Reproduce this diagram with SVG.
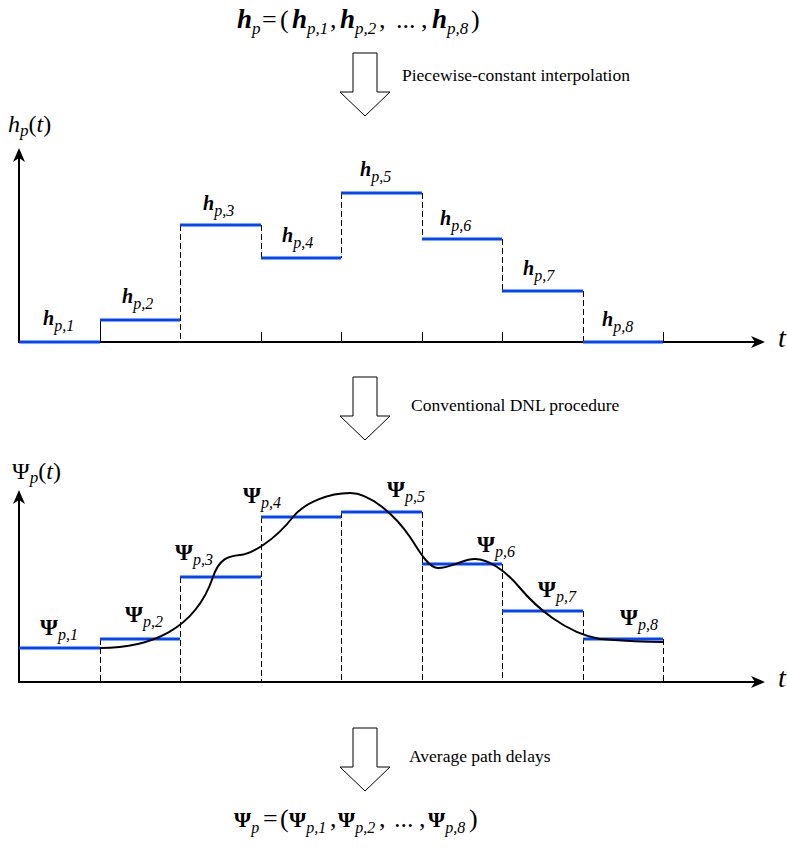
<svg xmlns="http://www.w3.org/2000/svg" width="787" height="848" viewBox="0 0 787 848">
<style>
text{font-family:"Liberation Serif","Times New Roman",serif;fill:#000}
.ax{stroke:#000;stroke-width:2;fill:none}
.step{stroke:#0044ff;stroke-width:3;fill:none}
.dash{stroke:#000;stroke-width:1;stroke-dasharray:6,3;fill:none}
.tick{stroke:#000;stroke-width:1;fill:none}
.curve{stroke:#000;stroke-width:2;fill:none}
.big{fill:#fff;stroke:#000;stroke-width:1}
.cap{font-size:17.5px}
.lh{font-size:20px;font-weight:bold;font-style:italic}
.lp{font-size:23px;font-weight:bold}
.sub{font-size:16px;font-weight:normal;font-style:italic}
.fh{font-size:27px;font-weight:bold;font-style:italic}
.fp{font-size:22px;font-weight:bold}
.fs{font-size:17px;font-weight:normal;font-style:italic}
.fs2{font-size:16px;font-weight:normal;font-style:italic}
.fr{font-size:26px;font-weight:normal;font-style:normal}
.axl{font-size:24px}
.it{font-style:italic}
.tl{font-size:28px;font-style:italic}
</style>
<defs>
<marker id="ah" viewBox="0 0 14 12" refX="4" refY="6" markerWidth="14" markerHeight="12" markerUnits="userSpaceOnUse" orient="auto">
<path d="M0,0 L14,6 L0,12 L4,6 Z" fill="#000"/>
</marker>
<path id="bigArrow" class="big" d="M13,0 H37 V39 H50 L25,63 L0,39 H13 Z"/>
</defs>

<g id="formula-top">
<text y="28"><tspan class="fh" x="237">h</tspan><tspan class="fs" y="34">p</tspan><tspan class="fr" x="262" y="28" font-weight="bold">=</tspan><tspan class="fr" x="280" y="28">(</tspan><tspan class="fh" x="292" y="28">h</tspan><tspan class="fs" y="34">p,1</tspan><tspan class="fr" x="330" y="28">,</tspan><tspan class="fh" x="340" y="28">h</tspan><tspan class="fs" y="34">p,2</tspan><tspan class="fr" x="379" y="28">,</tspan><tspan class="fr" x="396" y="28">...</tspan><tspan class="fr" x="421" y="28">,</tspan><tspan class="fh" x="432" y="28">h</tspan><tspan class="fs" y="34">p,8</tspan><tspan class="fr" x="471" y="28">)</tspan></text>
</g>

<g id="step-arrow-1">
<use href="#bigArrow" x="340" y="53"/>
<text class="cap" x="402" y="81">Piecewise-constant interpolation</text>
</g>

<g id="chart-h">
<g id="axes-h">
<line class="ax" x1="19" y1="342" x2="19" y2="158" marker-end="url(#ah)"/>
<line class="ax" x1="18" y1="342" x2="755" y2="342" marker-end="url(#ah)"/>
<text class="axl" x="8" y="132"><tspan class="it">h</tspan><tspan class="it" font-size="17" dy="4">p</tspan><tspan dy="-4">(</tspan><tspan class="it">t</tspan>)</text>
<text class="tl" x="778" y="347">t</text>
</g>
<g id="guides-h" transform="translate(0.5,0)">
<line class="tick" x1="100" y1="320" x2="100" y2="342"/>
<line class="dash" x1="180" y1="225" x2="180" y2="342"/>
<line class="dash" x1="261" y1="225" x2="261" y2="258"/>
<line class="dash" x1="341" y1="193" x2="341" y2="258"/>
<line class="dash" x1="422" y1="193" x2="422" y2="239"/>
<line class="dash" x1="502" y1="239" x2="502" y2="291"/>
<line class="dash" x1="583" y1="291" x2="583" y2="342"/>
<path class="tick" d="M261,332V342M341,332V342M422,332V342M502,332V342M663,332V342"/>
</g>
<g id="h1"><line class="step" x1="19" y1="342" x2="100" y2="342"/><text class="lh" x="43" y="325">h<tspan class="sub" dy="6">p,1</tspan></text></g>
<g id="h2"><line class="step" x1="100" y1="320" x2="180" y2="320"/><text class="lh" x="122" y="303">h<tspan class="sub" dy="6">p,2</tspan></text></g>
<g id="h3"><line class="step" x1="180" y1="225" x2="261" y2="225"/><text class="lh" x="203" y="210">h<tspan class="sub" dy="6">p,3</tspan></text></g>
<g id="h4"><line class="step" x1="261" y1="258" x2="341" y2="258"/><text class="lh" x="282" y="242">h<tspan class="sub" dy="6">p,4</tspan></text></g>
<g id="h5"><line class="step" x1="341" y1="193" x2="422" y2="193"/><text class="lh" x="360" y="176">h<tspan class="sub" dy="6">p,5</tspan></text></g>
<g id="h6"><line class="step" x1="422" y1="239" x2="502" y2="239"/><text class="lh" x="440" y="225">h<tspan class="sub" dy="6">p,6</tspan></text></g>
<g id="h7"><line class="step" x1="502" y1="291" x2="583" y2="291"/><text class="lh" x="523" y="275">h<tspan class="sub" dy="6">p,7</tspan></text></g>
<g id="h8"><line class="step" x1="583" y1="342" x2="663" y2="342"/><text class="lh" x="602" y="326">h<tspan class="sub" dy="6">p,8</tspan></text></g>
</g>

<g id="step-arrow-2">
<use href="#bigArrow" x="340" y="377"/>
<text class="cap" x="411" y="411">Conventional DNL procedure</text>
</g>

<g id="chart-psi">
<g id="axes-psi">
<line class="ax" x1="19" y1="682" x2="19" y2="500" marker-end="url(#ah)"/>
<line class="ax" x1="18" y1="682" x2="755" y2="682" marker-end="url(#ah)"/>
<text class="axl" x="12" y="479" font-size="23">Ψ<tspan class="it" font-size="17" dy="4">p</tspan><tspan dy="-4">(</tspan><tspan class="it">t</tspan>)</text>
<text class="tl" x="778" y="687">t</text>
</g>
<g id="guides-psi" transform="translate(0.5,0)">
<line class="dash" x1="100" y1="639" x2="100" y2="682"/>
<line class="dash" x1="180" y1="577" x2="180" y2="682"/>
<line class="dash" x1="261" y1="517" x2="261" y2="682"/>
<line class="dash" x1="341" y1="512" x2="341" y2="682"/>
<line class="dash" x1="422" y1="512" x2="422" y2="682"/>
<line class="dash" x1="502" y1="564" x2="502" y2="682"/>
<line class="dash" x1="583" y1="611" x2="583" y2="682"/>
<line class="dash" x1="663" y1="639" x2="663" y2="682"/>
</g>
<g id="psi1"><line class="step" x1="19" y1="648" x2="100" y2="648"/><text class="lp" x="40" y="635">Ψ<tspan class="sub" dy="5">p,1</tspan></text></g>
<g id="psi2"><line class="step" x1="100" y1="639" x2="180" y2="639"/><text class="lp" x="125" y="622">Ψ<tspan class="sub" dy="5">p,2</tspan></text></g>
<g id="psi3"><line class="step" x1="180" y1="577" x2="261" y2="577"/><text class="lp" x="175" y="560">Ψ<tspan class="sub" dy="5">p,3</tspan></text></g>
<g id="psi4"><line class="step" x1="261" y1="517" x2="341" y2="517"/><text class="lp" x="243" y="503">Ψ<tspan class="sub" dy="5">p,4</tspan></text></g>
<g id="psi5"><line class="step" x1="341" y1="512" x2="422" y2="512"/><text class="lp" x="387" y="497">Ψ<tspan class="sub" dy="5">p,5</tspan></text></g>
<g id="psi6"><line class="step" x1="422" y1="564" x2="502" y2="564"/><text class="lp" x="477" y="552">Ψ<tspan class="sub" dy="5">p,6</tspan></text></g>
<g id="psi7"><line class="step" x1="502" y1="611" x2="583" y2="611"/><text class="lp" x="538" y="597">Ψ<tspan class="sub" dy="5">p,7</tspan></text></g>
<g id="psi8"><line class="step" x1="583" y1="639" x2="663" y2="639"/><text class="lp" x="620" y="625">Ψ<tspan class="sub" dy="5">p,8</tspan></text></g>
<g id="delay-curve">
<path class="curve" d="M100,648 C150,648 195,630 213,577 C219,559 228,556 240,555 C252,554 275,540 293,517 C305,502 330,493 350,493 C370,493 395,515 410,537 C418,549 428,568 438,568 C452,568 462,559 475,559 C488,559 505,570 520,588 C535,606 565,633 600,639 C625,641 645,642 663,642"/>
</g>
</g>

<g id="step-arrow-3">
<use href="#bigArrow" x="340" y="728"/>
<text class="cap" x="409" y="762">Average path delays</text>
</g>

<g id="formula-bottom">
<text y="827"><tspan class="fp" x="234">Ψ</tspan><tspan class="fs2" y="833">p</tspan><tspan class="fr" x="263" y="827">=</tspan><tspan class="fr" x="280" y="827">(</tspan><tspan class="fp" x="289" y="827">Ψ</tspan><tspan class="fs2" y="833">p,1</tspan><tspan class="fr" x="330" y="827">,</tspan><tspan class="fp" x="338" y="827">Ψ</tspan><tspan class="fs2" y="833">p,2</tspan><tspan class="fr" x="379" y="827">,</tspan><tspan class="fr" x="394" y="827">...</tspan><tspan class="fr" x="419" y="827">,</tspan><tspan class="fp" x="428" y="827">Ψ</tspan><tspan class="fs2" y="833">p,8</tspan><tspan class="fr" x="469" y="827">)</tspan></text>
</g>
</svg>
